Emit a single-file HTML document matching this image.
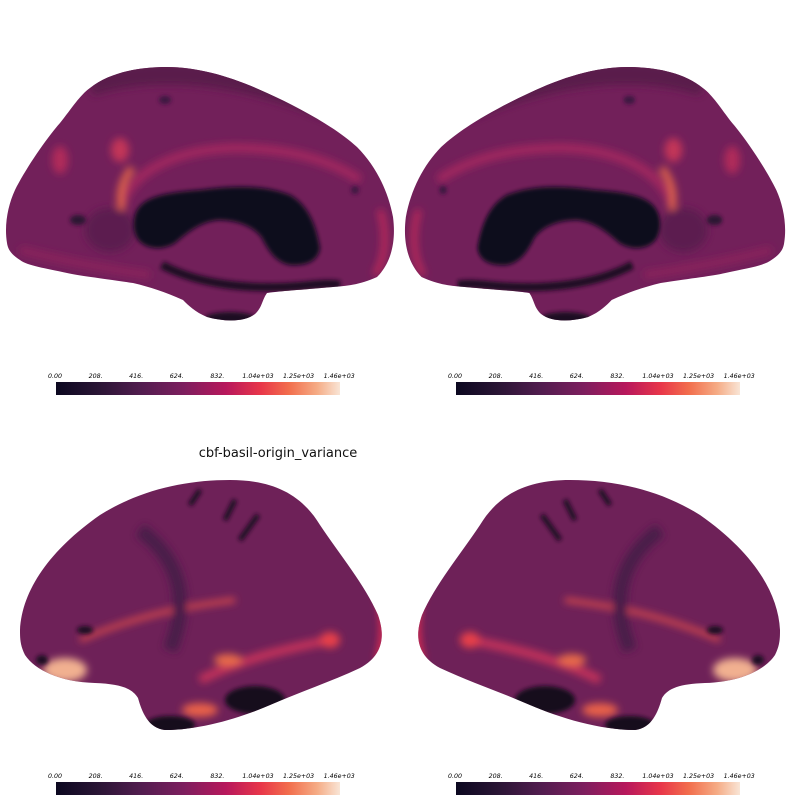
<!DOCTYPE html>
<html><head><meta charset="utf-8"><style>
body{margin:0;background:#fff;width:800px;height:800px;overflow:hidden}
svg{display:block}
.lbl{font-family:"DejaVu Sans","Liberation Sans",sans-serif;font-style:italic;font-size:6.3px;fill:#000}
</style></head><body>
<svg width="800" height="800" viewBox="0 0 800 800">
<defs>
<linearGradient id="cmap" x1="0" x2="1" y1="0" y2="0">
<stop offset="0" stop-color="#0c0820"/><stop offset="0.15" stop-color="#2a1535"/><stop offset="0.3" stop-color="#521d4f"/>
<stop offset="0.45" stop-color="#7d1e5e"/><stop offset="0.6" stop-color="#b8185c"/><stop offset="0.72" stop-color="#e8364a"/>
<stop offset="0.82" stop-color="#f26e4d"/><stop offset="0.92" stop-color="#f5ac86"/><stop offset="1" stop-color="#f9e5d6"/>
</linearGradient>
<filter id="blur" x="-20%" y="-20%" width="140%" height="140%"><feGaussianBlur stdDeviation="4"/></filter>
<filter id="blur2" x="-20%" y="-20%" width="140%" height="140%"><feGaussianBlur stdDeviation="2"/></filter>
<path id="medial" d="M7,243 C4,225 8,205 15,190 C25,170 45,140 60,123 C72,108 80,95 90,88 C110,72 140,67 167,67 C200,67 235,78 267,93 C300,108 335,127 357,147 C375,165 388,190 393,217 C396,240 392,262 377,277 C360,285 345,286 333,287 C300,290 280,291 267,293 C262,300 262,308 255,314 C245,322 225,322 207,317 C195,312 188,305 183,300 C165,292 150,287 133,283 C100,278 80,276 67,273 C45,268 28,266 20,260 C12,255 8,250 7,243 Z"/>
<path id="lateral" d="M20,630 C22,590 50,550 100,515 C140,490 185,480 230,480 C270,480 300,492 320,525 C340,555 365,585 378,615 C385,635 384,655 360,668 C330,682 300,692 270,705 C240,718 200,730 165,730 C148,728 142,712 138,698 C132,688 120,684 95,683 C60,682 35,670 25,655 C20,645 20,638 20,630 Z"/>
<clipPath id="cm"><use href="#medial"/></clipPath>
<clipPath id="cl"><use href="#lateral"/></clipPath>
<g id="medialArt">
<use href="#medial" fill="#72205a"/>
<g clip-path="url(#cm)">
<g filter="url(#blur)">
<path d="M90,85 C170,60 260,80 330,110" stroke="#5a1c4c" stroke-width="22" fill="none"/>
<path d="M122,205 C130,175 170,150 233,148 C290,148 330,160 360,180" stroke="#a2285e" stroke-width="9" fill="none"/>
<path d="M122,210 C118,195 122,180 132,168" stroke="#e0644a" stroke-width="7" fill="none"/>
<ellipse cx="120" cy="150" rx="9" ry="12" fill="#c23658"/>
<ellipse cx="60" cy="160" rx="8" ry="14" fill="#b02a5a"/>
<path d="M380,210 C388,235 385,260 375,275" stroke="#c02a5a" stroke-width="6" fill="none"/>
<path d="M20,250 C60,260 100,268 150,275" stroke="#8a245c" stroke-width="8" fill="none"/>
<ellipse cx="110" cy="230" rx="25" ry="22" fill="#5c1e50"/>
</g>
<g filter="url(#blur2)">
<path d="M135,215 C140,200 155,193 200,190 C230,186 262,184 290,195 C308,205 316,225 320,248 C318,262 305,266 290,265 C275,262 268,250 262,238 C255,228 240,220 218,220 C200,222 188,232 175,243 C160,252 143,248 137,238 C133,230 133,222 135,215 Z" fill="#100a1c"/>
<path d="M162,265 C200,285 250,290 300,286 C320,284 330,283 340,285" stroke="#1a0c22" stroke-width="8" fill="none"/>
<ellipse cx="230" cy="318" rx="25" ry="6" fill="#1a0c22"/>
<ellipse cx="78" cy="220" rx="8" ry="5" fill="#2a1230"/>
<ellipse cx="165" cy="100" rx="6" ry="4" fill="#3a1640"/>
<ellipse cx="355" cy="190" rx="4" ry="4" fill="#3a1640"/>
</g>
</g>
</g>
<g id="lateralArt">
<use href="#lateral" fill="#6e2158"/>
<g clip-path="url(#cl)">
<g filter="url(#blur)">
<path d="M80,640 C150,610 200,605 235,600" stroke="#d84a4c" stroke-width="5" fill="none"/>
<path d="M200,680 C240,660 280,650 330,640" stroke="#c3305a" stroke-width="9" fill="none"/>
<ellipse cx="65" cy="670" rx="22" ry="12" fill="#f1b090"/>
<ellipse cx="330" cy="640" rx="10" ry="8" fill="#e8404a"/>
<ellipse cx="228" cy="660" rx="14" ry="6" fill="#e86a48"/>
<ellipse cx="200" cy="710" rx="18" ry="7" fill="#e8604a"/>
<path d="M375,580 C385,610 385,640 378,660" stroke="#ee2a50" stroke-width="6" fill="none"/>
<path d="M140,530 C180,560 190,600 170,650" stroke="#4a1c48" stroke-width="14" fill="none"/>
</g>
<g filter="url(#blur2)">
<ellipse cx="255" cy="700" rx="30" ry="14" fill="#140a1e"/>
<ellipse cx="170" cy="725" rx="25" ry="9" fill="#140a1e"/>
<path d="M190,505 L200,490 M225,520 L235,500 M240,540 L258,515" stroke="#1a0c22" stroke-width="5"/>
<ellipse cx="85" cy="630" rx="8" ry="4" fill="#1a0c22"/>
<ellipse cx="42" cy="660" rx="6" ry="5" fill="#1a0c22"/>
</g>
</g>
</g>
</defs>

<g><use href="#medialArt"/></g>
<g transform="translate(791,0) scale(-0.98,1)"><use href="#medialArt"/></g>
<g><use href="#lateralArt"/></g>
<g transform="translate(800,0) scale(-1,1)"><use href="#lateralArt"/></g>

<text x="278" y="457" text-anchor="middle" font-family="DejaVu Sans, Liberation Sans, sans-serif" font-size="13" fill="#111">cbf-basil-origin_variance</text>

<g id="cbars"></g>
</svg>
<script>
const tickLabels=["0.00","208.","416.","624.","832.","1.04e+03","1.25e+03","1.46e+03"];
const cbarPositions=[[56,382],[456,382],[56,782],[456,782]];
const g=document.getElementById('cbars');
const ns='http://www.w3.org/2000/svg';
cbarPositions.forEach((p,k)=>{
  const grp=document.createElementNS(ns,'g');
  
  
  const r=document.createElementNS(ns,'rect');
  r.setAttribute('x',p[0]);r.setAttribute('y',p[1]);r.setAttribute('width',284);r.setAttribute('height',13);
  r.setAttribute('fill','url(#cmap)');
  
  
  grp.appendChild(r);
  tickLabels.forEach((t,i)=>{
    const tx=document.createElementNS(ns,'text');
    tx.setAttribute('x',p[0]-1+i*40.6);tx.setAttribute('y',p[1]-4);
    tx.setAttribute('text-anchor','middle');
    tx.setAttribute('class','lbl');
    
    
    tx.textContent=t;grp.appendChild(tx);
  });
  g.appendChild(grp);
});
</script>
</body></html>
